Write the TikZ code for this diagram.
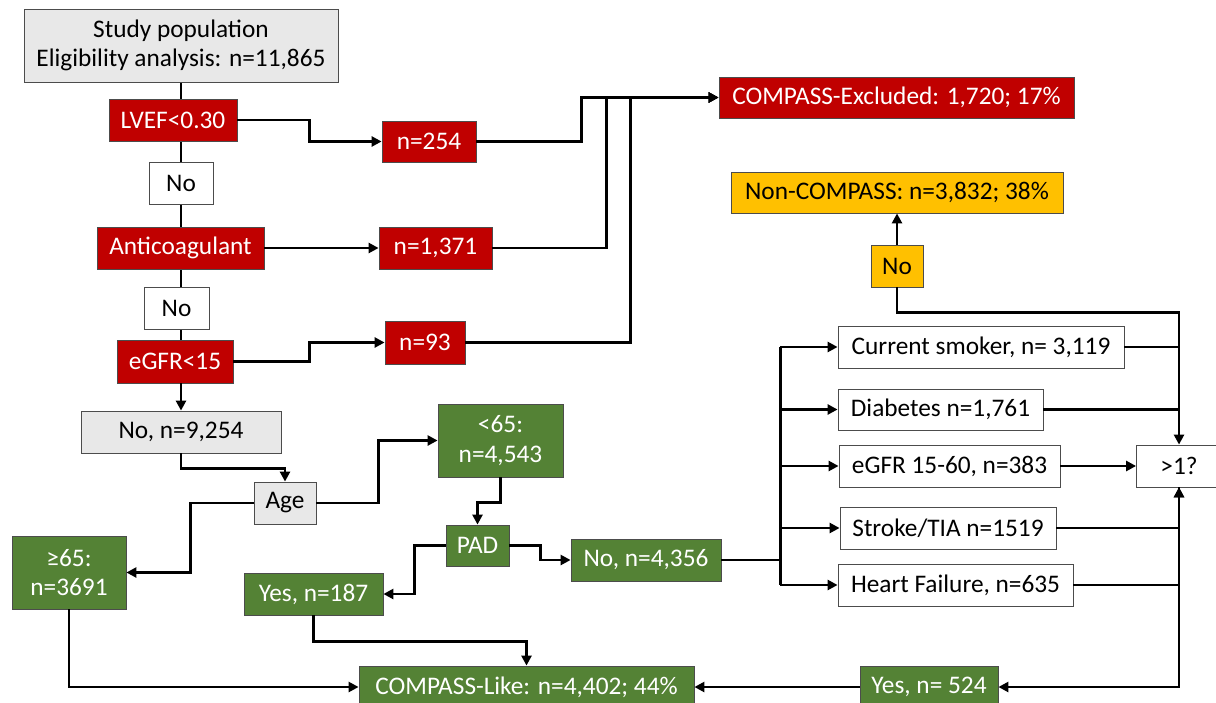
\documentclass[tikz,border=0pt]{standalone}
\usepackage{fontspec}
\setmainfont{Carlito}
\usetikzlibrary{arrows.meta,positioning,backgrounds}
\definecolor{cred}{HTML}{C00000}
\definecolor{cgreen}{HTML}{548235}
\definecolor{cyellow}{HTML}{FFC000}
\definecolor{cgray}{HTML}{E8E8E8}

\begin{document}
\begin{tikzpicture}[x=0.025cm, y=-0.025cm,
        box/.style={rectangle, draw=black!70, line width=0.6pt, inner sep=2pt, align=center, font=\fontsize{18}{21}\selectfont},
        sz/.style 2 args={minimum width=#1*0.025cm, minimum height=#2*0.025cm},
        redbox/.style={box, fill=cred, text=white},
        greenbox/.style={box, fill=cgreen, text=white},
        yellowbox/.style={box, fill=cyellow},
        graybox/.style={box, fill=cgray},
        whitebox/.style={box, fill=white},
        line/.style={line width=2pt},
        msg/.style={line, -{Triangle[length=7pt, width=7pt]}}
    ]
        \useasboundingbox (0,0) rectangle (1216,703);

        % exclusion column
        \node[graybox, sz={314}{73}] (study) at (181,45.5) {Study population\\Eligibility analysis: n=11,865};
        \node[redbox, sz={128}{42}] (lvef) at (173,120) {LVEF<0.30};
        \node[whitebox, sz={64}{42}] (no1) at (181,183) {No};
        \node[redbox, sz={167}{42}] (anticoag) at (180.5,248) {Anticoagulant};
        \node[whitebox, sz={65}{42}] (no2) at (176.5,308) {No};
        \node[redbox, sz={116}{43}] (egfr) at (175,361.5) {eGFR<15};
        \node[graybox, sz={200}{42}] (remain) at (181,432) {No, n=9,254};

        \node[redbox, sz={94}{41}] (n254) at (429,141.5) {n=254};
        \node[redbox, sz={113}{42}] (n1371) at (435.5,248) {n=1,371};
        \node[redbox, sz={80}{43}] (n93) at (425,342.5) {n=93};
        \node[redbox, sz={355}{41}] (excl) at (896.5,97.5) {COMPASS-Excluded: 1,720; 17\%};

        % age and PAD
        \node[graybox, sz={62}{42}] (age) at (285,503) {Age};
        \node[greenbox, sz={114}{73}] (ge65) at (69,572.5) {≥65:\\n=3691};
        \node[greenbox, sz={125}{73}] (lt65) at (500.5,440.5) {<65:\\n=4,543};
        \node[greenbox, sz={63}{41}] (pad) at (477.5,545.5) {PAD};
        \node[greenbox, sz={139}{42}] (yes187) at (313.5,594) {Yes, n=187};
        \node[greenbox, sz={150}{42}] (no4356) at (646,560) {No, n=4,356};
        \node[greenbox, sz={335}{42}] (clike) at (526.5,687) {COMPASS-Like: n=4,402; 44\%};
        \node[greenbox, sz={138}{42}] (yes524) at (929,687) {Yes, n= 524};

        % risk factors
        \node[whitebox, sz={286}{42}] (smoker) at (981,347) {Current smoker, n= 3,119};
        \node[whitebox, sz={205}{41}] (diab) at (940.5,409.5) {Diabetes n=1,761};
        \node[whitebox, sz={221}{42}] (egfrmid) at (949.5,466) {eGFR 15-60, n=383};
        \node[whitebox, sz={216}{42}] (stroke) at (948,528) {Stroke/TIA n=1519};
        \node[whitebox, sz={235}{42}] (hf) at (955.5,585) {Heart Failure, n=635};
        \node[whitebox, sz={85}{42}] (gt1) at (1179,466) {>1?};
        \node[yellowbox, sz={52}{42}] (noY) at (897,266) {No};
        \node[yellowbox, sz={332}{41}] (noncomp) at (897,192.5) {Non-COMPASS: n=3,832; 38\%};

        \begin{pgfonlayer}{background}
            \draw[line] (study.south) -- (study.south |- egfr.north);
        \end{pgfonlayer}
        \draw[msg] (study.south |- egfr.south) -- (study.south |- remain.north);

        \draw[msg] (lvef.east) -- ++(72,0) |- (n254.west);
        \draw[msg] (anticoag.east) -- (n1371.west);
        \draw[msg] (egfr.east) -- ++(76,0) |- (n93.west);
        \draw[msg] (n254.east) -- ++(105,0) |- (excl.west);
        \draw[msg] (n1371.east) -- ++(114,0) |- (excl.west);
        \draw[msg] (n93.east) -- ++(165,0) |- (excl.west);

        \draw[msg] (remain.south) -- ++(0,15) -| (age.north);
        \draw[msg] (age.east) -- ++(62,0) |- (lt65.west);
        \draw[msg] (age.west) -- ++(-63,0) |- (ge65.east);
        \draw[msg] (lt65.south) -- ++(0,25) -| (pad.north);
        \draw[msg] (pad.west) -- ++(-31,0) |- (yes187.east);
        \draw[msg] (pad.east) -- ++(31,0) |- (no4356.west);
        \draw[msg] (yes187.south) -- ++(0,26) -| (clike.north);
        \draw[msg] (ge65.south) |- (clike.west);
        \draw[msg] (yes524.west) -- (clike.east);

        \draw[line] (no4356.east) -- ++(59,0) coordinate (trunk);
        \draw[line] (trunk |- smoker.west) -- (trunk |- hf.west);
        \foreach \f in {smoker, diab, egfrmid, stroke, hf}
            \draw[msg] (trunk |- \f.west) -- (\f.west);

        \draw[msg] (noY.north) -- (noY.north |- noncomp.south);
        \draw[msg] (noY.south) -- ++(0,25) -| (gt1.north);
        \draw[line] (smoker.east) -- (smoker.east -| gt1.north);
        \draw[line] (diab.east) -- (diab.east -| gt1.north);
        \draw[msg] (egfrmid.east) -- (gt1.west);
        \draw[msg] (stroke.east) -| (gt1.south);
        \draw[msg] (hf.east) -| (gt1.south);
        \draw[msg] (gt1.south) |- (yes524.east);
    \end{tikzpicture}
\end{document}
